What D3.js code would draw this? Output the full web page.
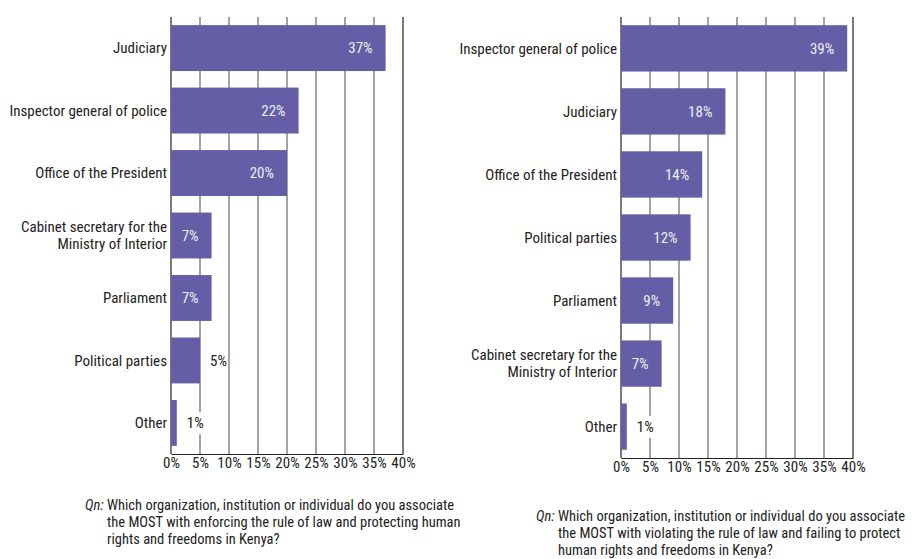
<!DOCTYPE html>
<html>
<head>
<meta charset="utf-8">
<script src="https://cdn.jsdelivr.net/npm/d3@7"></script>
<style>
  body { margin: 0; background: #fff; }
  svg text { font-family: "Liberation Sans Narrow", "Roboto Condensed", Roboto, sans-serif; }
</style>
</head>
<body>
<svg id="chart" width="914" height="559"></svg>
<script>
// left chart: enforcing the rule of law
const leftCategories = ["Judiciary", "Inspector general of police", "Office of the President",
  "Cabinet secretary for the\nMinistry of Interior", "Parliament", "Political parties", "Other"];
const leftValues = [37, 22, 20, 7, 7, 5, 1];
const leftQuestion = ["Which organization, institution or individual do you associate",
  "the MOST with enforcing the rule of law and protecting human",
  "rights and freedoms in Kenya?"];

// right chart: violating the rule of law
const rightCategories = ["Inspector general of police", "Judiciary", "Office of the President",
  "Political parties", "Parliament", "Cabinet secretary for the\nMinistry of Interior", "Other"];
const rightValues = [39, 18, 14, 12, 9, 7, 1];
const rightQuestion = ["Which organization, institution or individual do you associate",
  "the MOST with violating the rule of law and failing to protect",
  "human rights and freedoms in Kenya?"];

const tickValues = [0, 5, 10, 15, 20, 25, 30, 35, 40];

const barColor = "#655ea6";
const fs = 15;
const svg = d3.select("#chart");

function drawChart(cfg) {
  const g = svg.append("g");
  const x = d3.scaleLinear().domain([0, 40]).range([cfg.x0, cfg.x0 + 232]);
  const y = d3.scaleBand().domain(cfg.categories).range([cfg.top, cfg.bottom])
    .paddingInner(0.265).paddingOuter(0.13);

  // gridlines
  g.selectAll("line.grid").data(tickValues).join("line")
    .attr("x1", d => x(d)).attr("x2", d => x(d))
    .attr("y1", cfg.top).attr("y2", cfg.bottom)
    .attr("stroke", d => (d === 0 || d === 40) ? "#222" : "#666")
    .attr("stroke-width", 1.2);

  // bottom axis
  const axis = g.append("g").attr("transform", `translate(0,${cfg.bottom})`)
    .call(d3.axisBottom(x).tickValues(tickValues).tickSize(0).tickPadding(3).tickFormat(d => d + "%"));
  axis.select(".domain").attr("stroke", "#222").attr("stroke-width", 1.2);
  axis.selectAll("text").attr("font-size", fs).attr("fill", "#222");

  const data = cfg.categories.map((c, i) => ({ cat: c, v: cfg.values[i] }));

  g.selectAll("rect.bar").data(data).join("rect")
    .attr("x", x(0)).attr("y", d => y(d.cat))
    .attr("width", d => x(d.v) - x(0)).attr("height", y.bandwidth())
    .attr("fill", barColor);

  // value labels
  data.forEach(d => {
    const cy = y(d.cat) + y.bandwidth() / 2;
    const inside = d.v >= 6;
    if (inside) {
      g.append("text").attr("x", x(d.v) - 13).attr("y", cy).attr("dy", "0.35em")
        .attr("text-anchor", "end").attr("font-size", fs).attr("fill", "#eee").text(d.v + "%");
    } else {
      const tx = x(d.v) + 10;
      const t = g.append("text").attr("x", tx).attr("y", cy).attr("dy", "0.35em")
        .attr("font-size", fs).attr("fill", "#222").text(d.v + "%");
      const bb = t.node().getBBox();
      g.insert("rect", () => t.node())
        .attr("x", bb.x - 1).attr("y", bb.y - 2).attr("width", bb.width + 2).attr("height", bb.height + 4)
        .attr("fill", "#fff");
    }
    // category label
    const lines = d.cat.split("\n");
    const lt = g.append("text").attr("x", x(0) - 4).attr("text-anchor", "end")
      .attr("font-size", fs).attr("fill", "#222");
    lines.forEach((l, i) => {
      lt.append("tspan").attr("x", x(0) - 4)
        .attr("y", cy + (i - (lines.length - 1) / 2) * 17).attr("dy", "0.35em").text(l);
    });
  });

  // question note
  const q = g.append("text").attr("font-size", 14.5).attr("fill", "#222");
  q.append("tspan").attr("x", cfg.qx).attr("y", cfg.qy).attr("font-style", "italic").text("Qn:");
  cfg.question.forEach((l, i) => {
    q.append("tspan").attr("x", cfg.qx + 22).attr("y", cfg.qy + i * 17).text(l);
  });
}

drawChart({ categories: leftCategories, values: leftValues, question: leftQuestion,
  x0: 171, top: 17, bottom: 454, qx: 85, qy: 510 });
drawChart({ categories: rightCategories, values: rightValues, question: rightQuestion,
  x0: 621, top: 17, bottom: 458, qx: 536, qy: 521 });
</script>
</body>
</html>
